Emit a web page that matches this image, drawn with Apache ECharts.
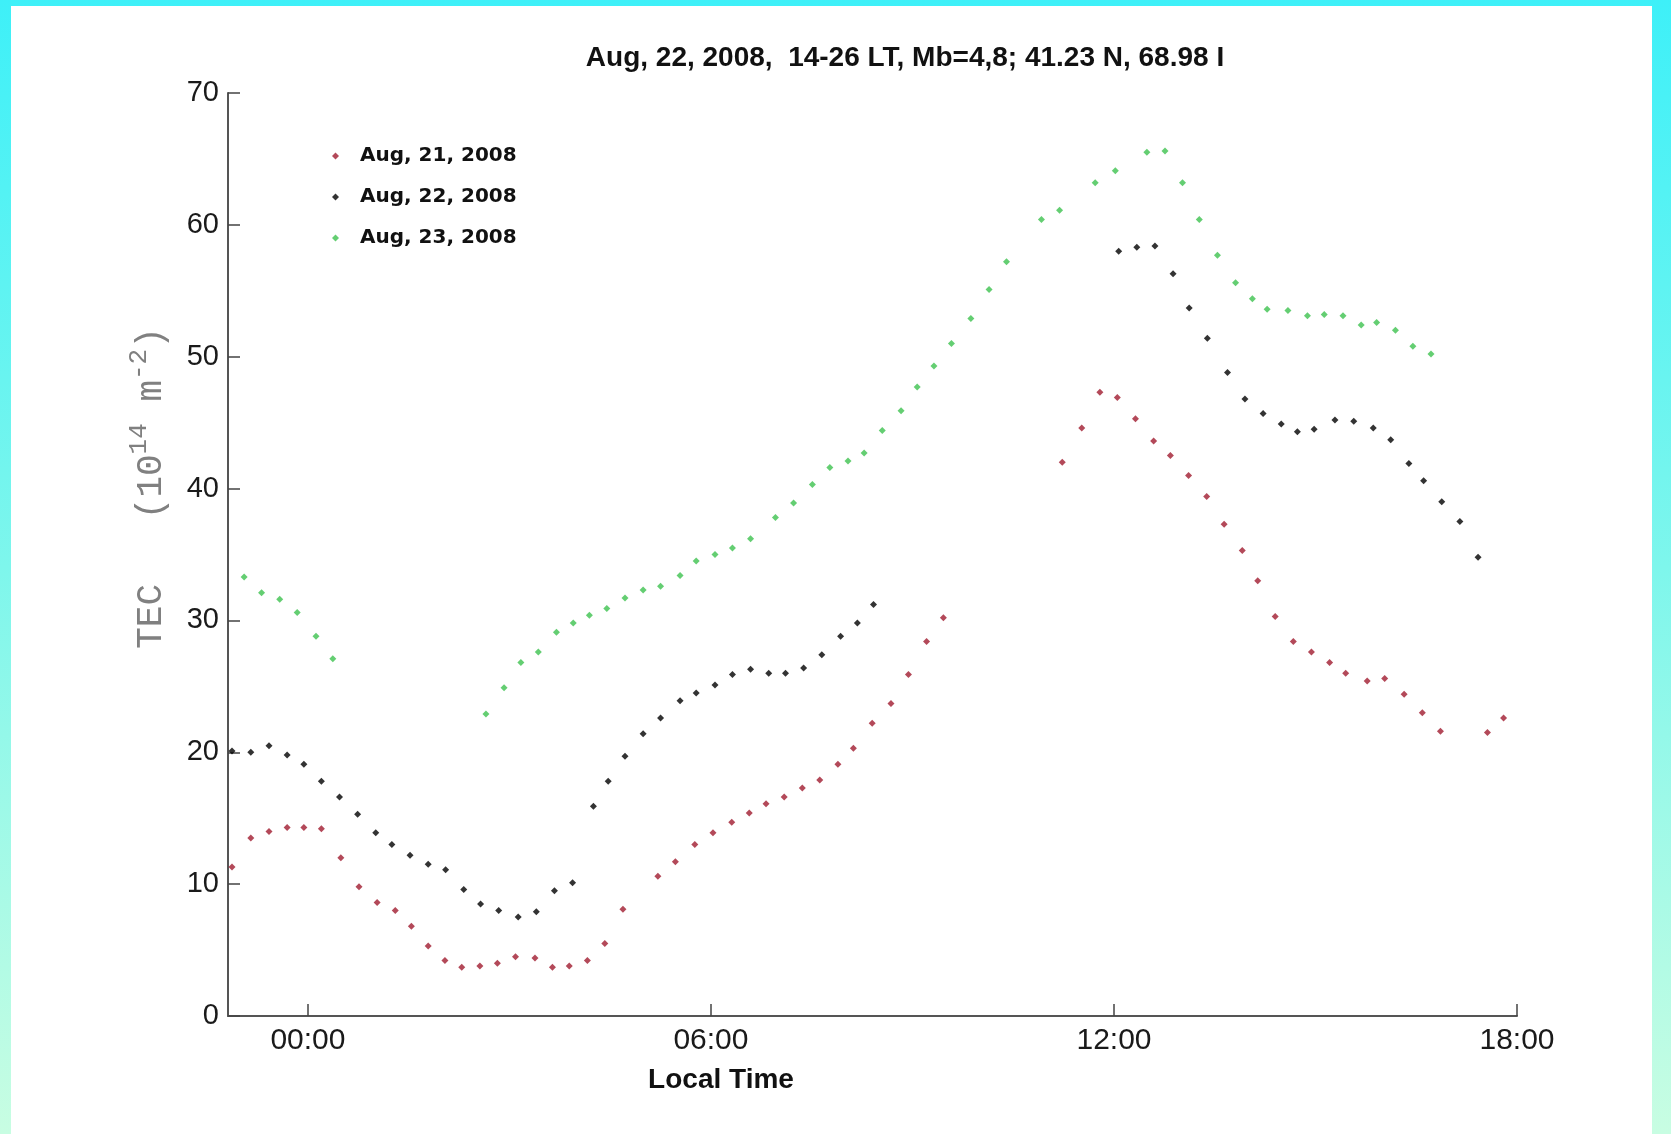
<!DOCTYPE html>
<html>
<head>
<meta charset="utf-8">
<script src="https://cdn.jsdelivr.net/npm/echarts@6/dist/echarts.min.js"></script>
<style>
  html, body { margin: 0; padding: 0; width: 1671px; height: 1134px; overflow: hidden; }
  body { background: linear-gradient(to bottom, #3ef0f8 0%, #7ef6ec 50%, #c8fde2 100%); position: relative; }
  #chart { position: absolute; left: 11px; top: 6px; width: 1641px; height: 1128px; background: #fff; }
</style>
</head>
<body>
<div id="chart"></div>
<script>
  // local time in hours (negative = before midnight), TEC in 1e14 m^-2
  const timeAug21 = [-1.13, -0.85, -0.58, -0.31, -0.06, 0.20, 0.49, 0.76, 1.03, 1.30,
    1.54, 1.79, 2.04, 2.29, 2.56, 2.82, 3.09, 3.38, 3.64, 3.89,
    4.16, 4.42, 4.69, 5.21, 5.47, 5.76, 6.03, 6.31, 6.57, 6.82,
    7.09, 7.36, 7.62, 7.89, 8.12, 8.40, 8.68, 8.94, 9.21, 9.46,
    11.23, 11.52, 11.79, 12.05, 12.32, 12.59, 12.84, 13.11, 13.38, 13.64,
    13.91, 14.14, 14.40, 14.67, 14.94, 15.21, 15.45, 15.77, 16.03, 16.32,
    16.59, 16.86, 17.56, 17.80];
  const tecAug21 = [11.3, 13.5, 14.0, 14.3, 14.3, 14.2, 12.0, 9.8, 8.6, 8.0,
    6.8, 5.3, 4.2, 3.7, 3.8, 4.0, 4.5, 4.4, 3.7, 3.8,
    4.2, 5.5, 8.1, 10.6, 11.7, 13.0, 13.9, 14.7, 15.4, 16.1,
    16.6, 17.3, 17.9, 19.1, 20.3, 22.2, 23.7, 25.9, 28.4, 30.2,
    42.0, 44.6, 47.3, 46.9, 45.3, 43.6, 42.5, 41.0, 39.4, 37.3,
    35.3, 33.0, 30.3, 28.4, 27.6, 26.8, 26.0, 25.4, 25.6, 24.4,
    23.0, 21.6, 21.5, 22.6];

  const timeAug22 = [-1.13, -0.85, -0.58, -0.31, -0.06, 0.20, 0.47, 0.74, 1.01, 1.25,
    1.52, 1.79, 2.05, 2.32, 2.57, 2.84, 3.13, 3.40, 3.67, 3.94,
    4.25, 4.47, 4.72, 4.99, 5.25, 5.54, 5.78, 6.06, 6.32, 6.59,
    6.86, 7.11, 7.38, 7.65, 7.93, 8.18, 8.42,
    12.07, 12.34, 12.61, 12.88, 13.12, 13.39, 13.69, 13.95, 14.22, 14.49,
    14.73, 14.98, 15.29, 15.57, 15.86, 16.12, 16.39, 16.61, 16.88, 17.15,
    17.42];
  const tecAug22 = [20.1, 20.0, 20.5, 19.8, 19.1, 17.8, 16.6, 15.3, 13.9, 13.0,
    12.2, 11.5, 11.1, 9.6, 8.5, 8.0, 7.5, 7.9, 9.5, 10.1,
    15.9, 17.8, 19.7, 21.4, 22.6, 23.9, 24.5, 25.1, 25.9, 26.3,
    26.0, 26.0, 26.4, 27.4, 28.8, 29.8, 31.2,
    58.0, 58.3, 58.4, 56.3, 53.7, 51.4, 48.8, 46.8, 45.7, 44.9,
    44.3, 44.5, 45.2, 45.1, 44.6, 43.7, 41.9, 40.6, 39.0, 37.5,
    34.8];

  const timeAug23 = [-0.95, -0.69, -0.42, -0.16, 0.12, 0.37,
    2.65, 2.92, 3.17, 3.43, 3.70, 3.95, 4.19, 4.45, 4.72, 4.99,
    5.25, 5.54, 5.78, 6.06, 6.32, 6.59, 6.96, 7.23, 7.51, 7.77,
    8.04, 8.28, 8.55, 8.83, 9.07, 9.32, 9.58, 9.87, 10.14, 10.40,
    10.92, 11.19, 11.72, 12.02, 12.49, 12.76, 13.02, 13.27, 13.54, 13.81,
    14.06, 14.28, 14.59, 14.88, 15.13, 15.41, 15.68, 15.91, 16.19, 16.45,
    16.72];
  const tecAug23 = [33.3, 32.1, 31.6, 30.6, 28.8, 27.1,
    22.9, 24.9, 26.8, 27.6, 29.1, 29.8, 30.4, 30.9, 31.7, 32.3,
    32.6, 33.4, 34.5, 35.0, 35.5, 36.2, 37.8, 38.9, 40.3, 41.6,
    42.1, 42.7, 44.4, 45.9, 47.7, 49.3, 51.0, 52.9, 55.1, 57.2,
    60.4, 61.1, 63.2, 64.1, 65.5, 65.6, 63.2, 60.4, 57.7, 55.6,
    54.4, 53.6, 53.5, 53.1, 53.2, 53.1, 52.4, 52.6, 52.0, 50.8,
    50.2];

  const seriesNames = ['Aug, 21, 2008', 'Aug, 22, 2008', 'Aug, 23, 2008'];
  const xTicks = [0, 6, 12, 18];

  function pairs(xs, ys) {
    return xs.map((x, i) => [x, ys[i]]);
  }

  const chart = echarts.init(document.getElementById('chart'));

  const dot = (name, color, data) => ({
    name: name,
    type: 'scatter',
    symbol: 'diamond',
    symbolSize: 7,
    itemStyle: { color: color },
    data: data
  });

  chart.setOption({
    animation: false,
    grid: { left: 217, right: 135, top: 87, bottom: 118 },
    legend: {
      orient: 'vertical',
      left: 316,
      top: 134,
      itemWidth: 7,
      itemHeight: 7,
      itemGap: 19,
      icon: 'diamond',
      data: seriesNames,
      textStyle: {
        fontFamily: 'DejaVu Sans',
        fontWeight: 'bold',
        fontSize: 20,
        lineHeight: 22,
        color: '#111',
        padding: [0, 0, 0, 16]
      }
    },
    xAxis: {
      type: 'value',
      min: -1.19,
      max: 18,
      splitLine: { show: false },
      axisLine: { onZero: false, lineStyle: { color: '#555', width: 2 } },
      axisTick: {
        customValues: xTicks,
        inside: true,
        length: 12,
        lineStyle: { color: '#444', width: 1.5 }
      },
      axisLabel: {
        customValues: xTicks,
        margin: 10,
        fontSize: 30,
        fontFamily: 'Liberation Sans',
        color: '#1a1a1a',
        formatter: v => String(v).padStart(2, '0') + ':00'
      }
    },
    yAxis: {
      type: 'value',
      min: 0,
      max: 70,
      interval: 10,
      splitLine: { show: false },
      axisLine: { show: true, onZero: false, lineStyle: { color: '#555', width: 2 } },
      axisTick: { show: true, inside: true, length: 12, lineStyle: { color: '#444', width: 1.5 } },
      axisLabel: {
        margin: 9,
        fontSize: 29,
        fontFamily: 'Liberation Sans',
        color: '#1a1a1a'
      }
    },
    graphic: [
      {
        type: 'text',
        x: 894,
        y: 52,
        style: {
          text: 'Aug, 22, 2008,  14-26 LT, Mb=4,8; 41.23 N, 68.98 I',
          font: 'bold 28px "Liberation Sans"',
          fill: '#111',
          align: 'center', textAlign: 'center',
          verticalAlign: 'middle', textVerticalAlign: 'middle'
        }
      },
      {
        type: 'text',
        x: 710,
        y: 1074,
        style: {
          text: 'Local Time',
          font: 'bold 28px "Liberation Sans"',
          fill: '#111',
          align: 'center', textAlign: 'center',
          verticalAlign: 'middle', textVerticalAlign: 'middle'
        }
      },
      {
        type: 'text',
        x: 140,
        y: 482,
        rotation: Math.PI / 2,
        style: {
          text: 'TEC   (10{sup|14} m{sup|-2})',
          font: '36px "Liberation Mono"',
          fill: '#808080',
          lineHeight: 50,
          align: 'center', textAlign: 'center',
          verticalAlign: 'middle', textVerticalAlign: 'middle',
          rich: {
            sup: {
              fontSize: 26,
              fontFamily: 'Liberation Mono',
              fill: '#808080',
              verticalAlign: 'top',
              lineHeight: 26
            }
          }
        }
      }
    ],
    series: [
      dot(seriesNames[0], '#a01c30', pairs(timeAug21, tecAug21)),
      dot(seriesNames[1], '#000000', pairs(timeAug22, tecAug22)),
      dot(seriesNames[2], '#3dc24f', pairs(timeAug23, tecAug23))
    ]
  });
</script>
</body>
</html>
